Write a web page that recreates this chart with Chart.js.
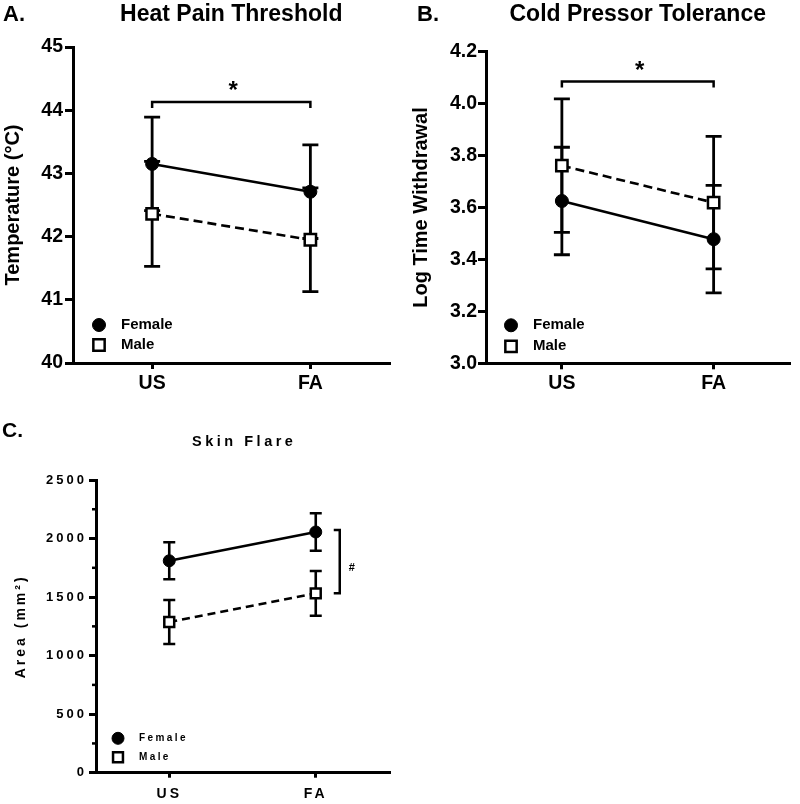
<!DOCTYPE html>
<html><head><meta charset="utf-8">
<script src="https://cdn.jsdelivr.net/npm/chart.js@4.4.0/dist/chart.umd.min.js"></script>
<style>
html,body{margin:0;padding:0;background:#fff;}
#wrap{position:relative;width:800px;height:804px;background:#fff;}
canvas{position:absolute;display:block;}
</style></head><body>
<div id="wrap">
<canvas id="cA" width="400" height="400" style="left:0;top:0"></canvas>
<canvas id="cB" width="400" height="400" style="left:400px;top:0"></canvas>
<canvas id="cC" width="400" height="404" style="left:0;top:400px"></canvas>
</div>
<script>
// ---------- data ----------
const categories = ['US', 'FA'];
const seriesNames = ['Female', 'Male'];

// A. Heat Pain Threshold (°C)
const heatFemale = [43.15, 42.71];
const heatFemaleSEM = [0.74, 0.74];
const heatMale = [42.36, 41.95];
const heatMaleSEM = [0.83, 0.82];
const heatTicks = [40, 41, 42, 43, 44, 45];
const heatSig = {from: 'US', to: 'FA', value: 44.13, text: '*'};

// B. Cold Pressor Tolerance (log time)
const coldFemale = [3.625, 3.478];
const coldFemaleSEM = [0.207, 0.207];
const coldMale = [3.761, 3.619];
const coldMaleSEM = [0.257, 0.255];
const coldTicks = [3.0, 3.2, 3.4, 3.6, 3.8, 4.0, 4.2];
const coldSig = {from: 'US', to: 'FA', value: 4.085, text: '*'};

// C. Skin Flare (mm²)
const flareFemale = [1810, 2056];
const flareFemaleSEM = [158, 160];
const flareMale = [1287, 1532];
const flareMaleSEM = [188, 191];
const flareTicks = [0, 500, 1000, 1500, 2000, 2500];
const flareMinorTicks = [250, 750, 1250, 1750, 2250];
const flareSig = {at: 'FA', from: 2073, to: 1532, text: '#'};

// ---------- helpers ----------
const FONT = "'Liberation Sans', Arial, Helvetica, sans-serif";

function decor(cfg) {
  return {
    id: 'decor',
    beforeDraw(chart) {
      chart.ctx.letterSpacing = (cfg.spacing || 0) + 'px';
    },
    beforeDatasetsDraw(chart) {
      const ctx = chart.ctx, y = chart.scales.y;
      ctx.save();
      ctx.strokeStyle = '#000';
      ctx.lineWidth = cfg.errW;
      ctx.lineCap = 'butt';
      chart.data.datasets.forEach((ds, i) => {
        const meta = chart.getDatasetMeta(i);
        ds.data.forEach((v, j) => {
          const e = ds.errors[j];
          const px = meta.data[j].x;
          const t = y.getPixelForValue(v + e), b = y.getPixelForValue(v - e);
          const hw = cfg.capW / 2;
          ctx.beginPath();
          ctx.moveTo(px, t); ctx.lineTo(px, b);
          ctx.moveTo(px - hw, t); ctx.lineTo(px + hw, t);
          ctx.moveTo(px - hw, b); ctx.lineTo(px + hw, b);
          ctx.stroke();
        });
      });
      ctx.restore();
    },
    afterDraw(chart) {
      const ctx = chart.ctx, ca = chart.chartArea, xs = chart.scales.x, ys = chart.scales.y;
      ctx.save();
      ctx.fillStyle = '#000';
      ctx.strokeStyle = '#000';
      // panel letter
      ctx.letterSpacing = '0px';
      ctx.font = `bold ${cfg.letterSize}px ${FONT}`;
      ctx.textAlign = 'left'; ctx.textBaseline = 'middle';
      ctx.fillText(cfg.letter, cfg.letterX, cfg.letterY);
      // title
      ctx.letterSpacing = (cfg.titleSpacing || 0) + 'px';
      ctx.font = `bold ${cfg.titleSize}px ${FONT}`;
      ctx.textAlign = 'center';
      ctx.fillText(cfg.title, (ca.left + ca.right) / 2 + (cfg.titleSpacing || 0) / 2, cfg.titleY);
      // minor ticks
      if (cfg.minor) {
        ctx.lineWidth = 2.5;
        cfg.minor.forEach(v => {
          const py = ys.getPixelForValue(v);
          ctx.beginPath(); ctx.moveTo(ca.left - 4, py); ctx.lineTo(ca.left, py); ctx.stroke();
        });
      }
      // significance bracket
      const s = cfg.sig;
      ctx.lineWidth = 2.5;
      ctx.letterSpacing = '0px';
      if (s.at) {
        const bx = xs.getPixelForValue(categories.indexOf(s.at)) + cfg.sigDx;
        const y1 = ys.getPixelForValue(s.from), y2 = ys.getPixelForValue(s.to);
        ctx.beginPath();
        ctx.moveTo(bx - 6, y1); ctx.lineTo(bx, y1); ctx.lineTo(bx, y2); ctx.lineTo(bx - 6, y2);
        ctx.stroke();
        ctx.font = `bold ${cfg.sigSize}px ${FONT}`;
        ctx.textAlign = 'center'; ctx.textBaseline = 'middle';
        ctx.fillText(s.text, bx + 12, (y1 + y2) / 2 + 6);
      } else {
        const x1 = xs.getPixelForValue(categories.indexOf(s.from));
        const x2 = xs.getPixelForValue(categories.indexOf(s.to));
        const by = ys.getPixelForValue(s.value);
        ctx.beginPath();
        ctx.moveTo(x1, by + 6); ctx.lineTo(x1, by); ctx.lineTo(x2, by); ctx.lineTo(x2, by + 6);
        ctx.stroke();
        ctx.font = `bold ${cfg.sigSize}px ${FONT}`;
        ctx.textAlign = 'center'; ctx.textBaseline = 'alphabetic';
        ctx.fillText(s.text, (x1 + x2) / 2 + 2, by - 4);
      }
      // legend
      const L = cfg.legend;
      chart.data.datasets.forEach((ds, i) => {
        const lx = ca.left + L.dx, ly = ca.bottom - L.dy[i];
        ctx.fillStyle = ds.pointBackgroundColor;
        ctx.strokeStyle = ds.pointBorderColor;
        ctx.lineWidth = ds.pointBorderWidth;
        ctx.setLineDash([]);
        Chart.helpers.drawPoint(ctx, {pointStyle: ds.pointStyle, radius: ds.pointRadius, borderWidth: ds.pointBorderWidth, rotation: 0}, lx, ly);
        ctx.fillStyle = '#000';
        ctx.letterSpacing = (L.spacing || 0) + 'px';
        ctx.font = `bold ${L.size}px ${FONT}`;
        ctx.textAlign = 'left'; ctx.textBaseline = 'middle';
        ctx.fillText(ds.label, ca.left + L.textDx, ly);
      });
      ctx.restore();
    }
  };
}

function makePanel(id, cfg) {
  const W = cfg.W, H = cfg.H;
  return new Chart(document.getElementById(id), {
    type: 'line',
    data: {
      labels: categories,
      datasets: [
        {label: seriesNames[0], data: cfg.female, errors: cfg.femaleErr,
          borderColor: '#000', backgroundColor: '#000', borderWidth: cfg.lineW, tension: 0, fill: false,
          pointStyle: 'circle', pointRadius: cfg.circleR, pointBackgroundColor: '#000',
          pointBorderColor: '#000', pointBorderWidth: 1},
        {label: seriesNames[1], data: cfg.male, errors: cfg.maleErr,
          borderColor: '#000', backgroundColor: '#fff', borderWidth: cfg.lineW, borderDash: cfg.dash, tension: 0, fill: false,
          pointStyle: 'rect', pointRadius: cfg.rectR, pointBackgroundColor: '#fff',
          pointBorderColor: '#000', pointBorderWidth: cfg.rectBW}
      ]
    },
    options: {
      responsive: false, animation: false, events: [],
      layout: {padding: {top: cfg.area.top, right: W - cfg.area.right, left: 0, bottom: 0}},
      plugins: {legend: {display: false}, tooltip: {enabled: false}, title: {display: false}},
      scales: {
        x: {
          type: 'category', offset: true,
          grid: {drawOnChartArea: false, drawTicks: true, tickLength: cfg.xTickLen, lineWidth: 3, color: '#000'},
          border: {display: true, color: '#000', width: 3},
          ticks: {color: '#000', font: {family: FONT, size: cfg.xFont, weight: 'bold'}, padding: cfg.xPad, maxRotation: 0},
          afterFit(s) { s.height = H - cfg.area.bottom; }
        },
        y: {
          min: cfg.ticks[0], max: cfg.ticks[cfg.ticks.length - 1],
          afterBuildTicks(s) { s.ticks = cfg.ticks.map(v => ({value: v})); },
          grid: {drawOnChartArea: false, drawTicks: true, tickLength: cfg.yTickLen, lineWidth: 3, color: '#000'},
          border: {display: true, color: '#000', width: 3},
          ticks: {color: '#000', font: {family: FONT, size: cfg.yFont, weight: 'bold'}, padding: cfg.yPad,
            callback: (v) => cfg.fmt(v)},
          title: {display: true, text: cfg.yTitle, color: '#000',
            font: {family: FONT, size: cfg.yTitleSize, weight: 'bold'}, padding: {top: cfg.yTitlePad, bottom: 0}},
          afterFit(s) { s.width = cfg.area.left; }
        }
      }
    },
    plugins: [decor(cfg)]
  });
}

makePanel('cA', {
  W: 400, H: 400, area: {left: 73, top: 47, right: 390, bottom: 363},
  female: heatFemale, femaleErr: heatFemaleSEM, male: heatMale, maleErr: heatMaleSEM,
  ticks: heatTicks, fmt: v => String(v),
  lineW: 2.6, dash: [9, 5], circleR: 6.5, rectR: 8, rectBW: 2.5, errW: 2.8, capW: 16,
  xTickLen: 6, xPad: 3, xFont: 19.5, yTickLen: 8, yPad: 2, yFont: 19.5,
  yTitle: 'Temperature (°C)', yTitleSize: 20, yTitlePad: 1.4,
  letter: 'A.', letterX: 3, letterY: 15, letterSize: 22,
  title: 'Heat Pain Threshold', titleSize: 23, titleY: 15,
  sig: heatSig, sigSize: 24,
  legend: {dx: 26, dy: [38, 18], textDx: 48, size: 15}
});

makePanel('cB', {
  W: 400, H: 400, area: {left: 86, top: 51.7, right: 399, bottom: 363.3},
  female: coldFemale, femaleErr: coldFemaleSEM, male: coldMale, maleErr: coldMaleSEM,
  ticks: coldTicks, fmt: v => Number(v).toFixed(1),
  lineW: 2.6, dash: [9, 5], circleR: 6.5, rectR: 8, rectBW: 2.5, errW: 2.8, capW: 16,
  xTickLen: 6, xPad: 3, xFont: 19.5, yTickLen: 8, yPad: 1, yFont: 19.5,
  yTitle: 'Log Time Withdrawal', yTitleSize: 20, yTitlePad: 9.7,
  letter: 'B.', letterX: 17, letterY: 15, letterSize: 22,
  title: 'Cold Pressor Tolerance', titleSize: 23, titleY: 15,
  sig: coldSig, sigSize: 24,
  legend: {dx: 25, dy: [38, 17], textDx: 47, size: 15}
});

makePanel('cC', {
  W: 400, H: 404, area: {left: 96, top: 80, right: 389, bottom: 372.7},
  female: flareFemale, femaleErr: flareFemaleSEM, male: flareMale, maleErr: flareMaleSEM,
  ticks: flareTicks, fmt: v => String(v), minor: flareMinorTicks, spacing: 3,
  lineW: 2.6, dash: [8, 5], circleR: 6, rectR: 7, rectBW: 2.5, errW: 2.6, capW: 12,
  xTickLen: 5, xPad: 8, xFont: 14, yTickLen: 7, yPad: 2, yFont: 13,
  yTitle: 'Area (mm²)', yTitleSize: 14, yTitlePad: 13,
  letter: 'C.', letterX: 2, letterY: 31.7, letterSize: 21,
  title: 'Skin Flare', titleSize: 14.5, titleSpacing: 3.5, titleY: 41.7,
  sig: flareSig, sigDx: 24, sigSize: 11,
  legend: {dx: 22, dy: [34.4, 15.4], textDx: 43, size: 10, spacing: 2.4}
});
</script>
</body></html>
